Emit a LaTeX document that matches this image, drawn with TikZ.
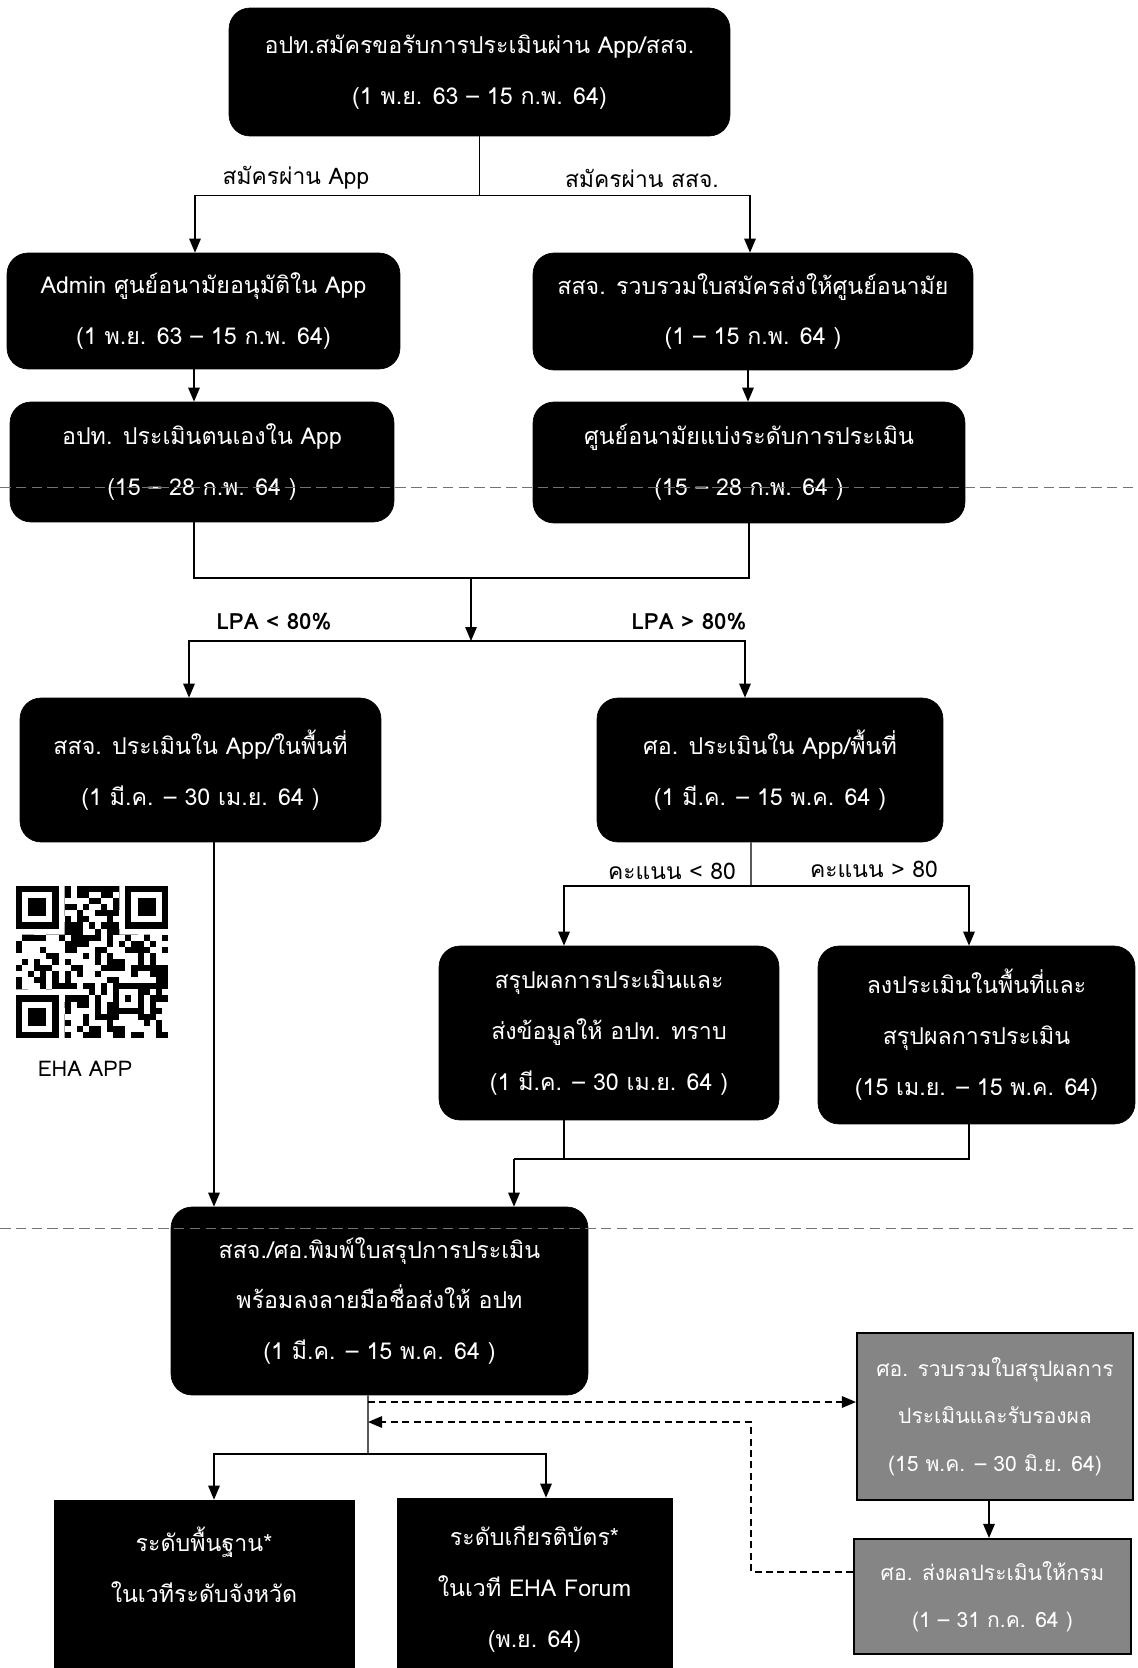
\documentclass[tikz,border=0pt]{standalone}
\usepackage{fontspec}
\newfontfamily\thaifont[Script=Thai]{Loma}
\usetikzlibrary{arrows.meta, positioning, calc}

\begin{document}
\begin{tikzpicture}[
  x=0.02cm, y=-0.02cm,
  box/.style={draw=black, fill=black, rounded corners=0.42cm, text=white, align=center, inner sep=0pt, font=\thaifont\fontsize{13.2}{29}\selectfont},
  award/.style={box, sharp corners},
  greybox/.style={draw=black, line width=1.2pt, fill=black!48, text=white, align=center, inner sep=0pt, font=\thaifont\fontsize{12}{27}\selectfont},
  lbl/.style={font=\thaifont\fontsize{13}{15}\selectfont},
  lpa/.style={font=\thaifont\bfseries\fontsize{12.7}{15}\selectfont},
  arr/.style={-{Triangle[length=2.8mm,width=2.3mm]}, line width=0.8pt},
  link/.style={line width=0.8pt},
  darr/.style={arr, dash pattern=on 4pt off 2.5pt},
  pagebrk/.style={draw=black!55, line width=0.5pt, dash pattern=on 6pt off 3pt},
]
  \useasboundingbox (0,0) rectangle (1137,1668);
  \clip (0,0) rectangle (1137,1668);

  \node[box, minimum width=10.02cm, minimum height=2.56cm] (reg) at (479.5,72) {อปท.สมัครขอรับการประเมินผ่าน App/สสจ.\\(1 พ.ย. 63 – 15 ก.พ. 64)};
  \node[box, minimum width=7.86cm, minimum height=2.32cm] (admin) at (203.5,311) {Admin ศูนย์อนามัยอนุมัติใน App\\(1 พ.ย. 63 – 15 ก.พ. 64)};
  \node[box, minimum width=8.8cm, minimum height=2.34cm] (col) at (753,311.5) {สสจ. รวบรวมใบสมัครส่งให้ศูนย์อนามัย\\(1 – 15 ก.พ. 64 )};
  \node[box, minimum width=7.68cm, minimum height=2.4cm] (self) at (202,462) {อปท. ประเมินตนเองใน App\\(15 – 28 ก.พ. 64 )};
  \node[box, minimum width=8.64cm, minimum height=2.42cm] (split) at (749,462.5) {ศูนย์อนามัยแบ่งระดับการประเมิน\\(15 – 28 ก.พ. 64 )};
  \node[box, minimum width=7.22cm, minimum height=2.88cm] (pho) at (200.5,770) {สสจ. ประเมินใน App/ในพื้นที่\\(1 มี.ค. – 30 เม.ย. 64 )};
  \node[box, minimum width=6.92cm, minimum height=2.88cm] (hc) at (770,770) {ศอ. ประเมินใน App/พื้นที่\\(1 มี.ค. – 15 พ.ค. 64 )};
  \node[box, minimum width=6.8cm, minimum height=3.48cm] (summ) at (609,1033) {สรุปผลการประเมินและ\\ส่งข้อมูลให้ อปท. ทราบ\\(1 มี.ค. – 30 เม.ย. 64 )};
  \node[box, minimum width=6.34cm, minimum height=3.56cm] (field) at (976.5,1035) {ลงประเมินในพื้นที่และ\\สรุปผลการประเมิน\\(15 เม.ย. – 15 พ.ค. 64)};
  \node[box, minimum width=8.34cm, minimum height=3.76cm] (print) at (379.5,1301) {สสจ./ศอ.พิมพ์ใบสรุปการประเมิน\\พร้อมลงลายมือชื่อส่งให้ อปท\\(1 มี.ค. – 15 พ.ค. 64 )};
  \node[award, minimum width=6cm, minimum height=3.6cm] (basic) at (204,1590) {ระดับพื้นฐาน*\\ในเวทีระดับจังหวัด\\~};
  \node[award, minimum width=5.5cm, minimum height=3.64cm] (cert) at (534.5,1589) {ระดับเกียรติบัตร*\\ในเวที EHA Forum\\(พ.ย. 64)};
  \node[greybox, minimum width=5.52cm, minimum height=3.34cm] (gray1) at (995,1416.5) {ศอ. รวบรวมใบสรุปผลการ\\ประเมินและรับรองผล\\(15 พ.ค. – 30 มิ.ย. 64)};
  \node[greybox, minimum width=5.54cm, minimum height=2.3cm] (gray2) at (992.5,1596.5) {ศอ. ส่งผลประเมินให้กรม\\(1 – 31 ก.ค. 64 )};

  \node[lbl] (viaapp) at (296,178) {สมัครผ่าน App};
  \node[lbl] (viapho) at (642,178) {สมัครผ่าน สสจ.};
  \node[lpa] (lpalow) at (274,622) {LPA < 80\%};
  \node[lpa] (lpahigh) at (689,622) {LPA > 80\%};
  \node[lbl] (scorelow) at (672,871) {คะแนน < 80};
  \node[lbl] (scorehigh) at (874,869) {คะแนน > 80};
  \node[lbl, font=\thaifont\fontsize{12.3}{14}\selectfont] (qrname) at (85,1069) {EHA APP};

  \coordinate (regsplit) at ($(reg.south)+(0,59)$);
  \draw[link] (reg.south) -- (regsplit);
  \draw[arr] (regsplit) -| ([xshift=-0.17cm]admin.north);
  \draw[arr] (regsplit) -| ([xshift=-0.06cm]col.north);
  \draw[arr] ([xshift=-0.19cm]admin.south) -- ([xshift=-0.19cm]admin.south |- self.north);
  \draw[arr] ([xshift=-0.1cm]col.south) -- ([xshift=-0.1cm]col.south |- split.north);

  \coordinate (evaljoin) at (471,578);
  \coordinate (lpasplit) at (471,641);
  \draw[link] ([xshift=-0.16cm]self.south) |- (evaljoin) -| (split.south);
  \draw[arr] (evaljoin) -- (lpasplit);
  \draw[arr] (lpasplit) -| ([xshift=-0.23cm]pho.north);
  \draw[arr] (lpasplit) -| ([xshift=-0.5cm]hc.north);

  \coordinate (scoresplit) at (751,886);
  \draw[link] ([xshift=-0.38cm]hc.south) -- (scoresplit);
  \draw[arr] (scoresplit) -| ([xshift=-0.9cm]summ.north);
  \draw[arr] (scoresplit) -| ([xshift=-0.15cm]field.north);

  \coordinate (sumjoin) at (514,1159);
  \draw[link] ([xshift=-0.9cm]summ.south) |- (sumjoin);
  \draw[link] ([xshift=-0.15cm]field.south) |- (sumjoin);
  \draw[arr] (sumjoin) -- (sumjoin |- print.north);
  \draw[arr] ([xshift=0.27cm]pho.south) -- ([xshift=0.27cm]pho.south |- print.north);

  \coordinate (awardsplit) at (368,1454);
  \draw[link] ([xshift=-0.23cm]print.south) -- (awardsplit);
  \draw[arr] (awardsplit) -| ([xshift=0.2cm]basic.north);
  \draw[arr] (awardsplit) -| ([xshift=0.23cm]cert.north);

  \coordinate (sendout) at (368,1402);
  \coordinate (backturn) at (751,1422);
  \coordinate (backin) at (368,1422);
  \draw[darr] (sendout) -- (sendout -| gray1.west);
  \draw[darr] ([yshift=0.49cm]gray2.west) -| (backturn) -- (backin);
  \draw[arr] ([xshift=-0.12cm]gray1.south) -- ([xshift=-0.12cm]gray1.south |- gray2.north);

  \begin{scope}[shift={(16,886)}, x=0.1216cm, y=-0.1216cm]
    \pgfmathsetseed{11}
    \foreach \i in {0,...,24}
      \foreach \j in {0,...,24} {
        \pgfmathparse{int(rnd+0.5)}
        \ifnum\pgfmathresult=1 \fill (\i,\j) rectangle ++(1,1); \fi
      }
    \fill[white] (0,0) rectangle (8,8) (17,0) rectangle (25,8) (0,17) rectangle (8,25);
    \foreach \p in {(0,0),(18,0),(0,18)} {
      \fill \p rectangle ++(7,7);
      \fill[white] \p ++(1,1) rectangle ++(5,5);
      \fill \p ++(2,2) rectangle ++(3,3);
    }
    \fill (16,16) rectangle ++(5,5);
    \fill[white] (17,17) rectangle ++(3,3);
    \fill (18,18) rectangle ++(1,1);
  \end{scope}

  \draw[pagebrk] (0,487) -- (1137,487);
  \draw[pagebrk] (0,1228) -- (1137,1228);
\end{tikzpicture}
\end{document}
